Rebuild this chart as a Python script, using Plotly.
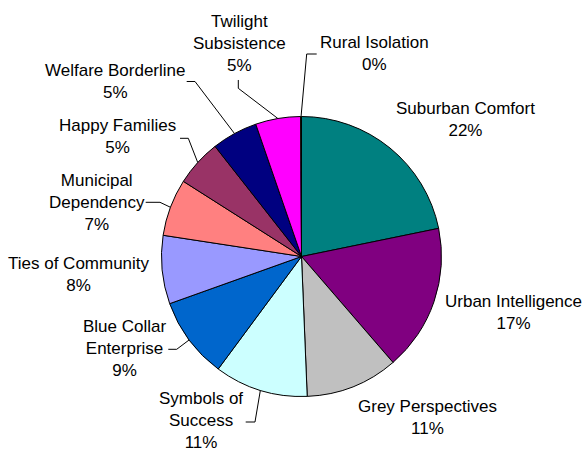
import math
import plotly.graph_objects as go

# ---- data ----
segments = ["Suburban Comfort", "Urban Intelligence", "Grey Perspectives",
            "Symbols of Success", "Blue Collar Enterprise", "Ties of Community",
            "Municipal Dependency", "Happy Families", "Welfare Borderline",
            "Twilight Subsistence", "Rural Isolation"]
label_lines = ["Suburban Comfort", "Urban Intelligence", "Grey Perspectives",
               "Symbols of<br>Success", "Blue Collar<br>Enterprise", "Ties of Community",
               "Municipal<br>Dependency", "Happy Families", "Welfare Borderline",
               "Twilight<br>Subsistence", "Rural Isolation"]
shares = [21.8, 16.9, 10.7, 10.8, 9.4, 7.9, 6.6, 5.4, 5.3, 5.2, 0.1]

# ---- style / layout ----
colors = ["#008080", "#800080", "#C0C0C0", "#CCFFFF", "#0066CC", "#9999FF",
          "#FF8080", "#993366", "#000080", "#FF00FF", "#FFFF00"]
W, H = 583, 453
CX, CY, R = 301.5, 256.5, 140.0
FONT = dict(family="Liberation Sans, Arial, sans-serif", size=17, color="black")

# label block centres (pixels)
label_pos = [(465, 119.5), (513, 312.5), (427, 417), (201, 420.5), (124.5, 348),
             (79, 274), (96.5, 202.5), (117.5, 136.7), (114.5, 81), (239.5, 43.7),
             (374, 54)]
# leader-line anchor points near labels (pixels); last point is the slice edge
leaders = {3: [(245.7, 422.0), (255, 422.0)],
           4: [(168.3, 349.3), (176.7, 349.3)],
           6: [(145.7, 202.3), (160, 202.3)],
           7: [(180, 138.3), (188.3, 138.3)],
           8: [(186.7, 81.5), (195, 81.5)],
           9: [(238.3, 80), (238.3, 88.3)],
           10: [(316.7, 54), (306.7, 54)]}


def px(x):
    return x / W


def py(y):
    return 1 - y / H


fig = go.Figure(go.Pie(
    values=shares, labels=segments, sort=False, direction="clockwise", rotation=0,
    marker=dict(colors=colors, line=dict(color="black", width=1)),
    textinfo="none", showlegend=False,
    domain=dict(x=[px(CX - R), px(CX + R)], y=[py(CY + R), py(CY - R)]),
))

total = sum(shares)
cum = 0.0
annotations = []
shapes = []
for i, v in enumerate(shares):
    mid = (cum + v / 2) / total * 2 * math.pi
    cum += v
    pct = v / total * 100
    lx, ly = label_pos[i]
    annotations.append(dict(
        x=px(lx), y=py(ly), xref="paper", yref="paper",
        text=f"{label_lines[i]}<br>{pct:.0f}%", showarrow=False,
        xanchor="center", yanchor="middle", align="center", font=FONT))
    if i in leaders:
        ex = CX + R * math.sin(mid)
        ey = CY - R * math.cos(mid)
        pts = leaders[i] + [(ex, ey)]
        path = "M " + " L ".join(f"{px(a):.5f},{py(b):.5f}" for a, b in pts)
        shapes.append(dict(type="path", path=path, xref="paper", yref="paper",
                           line=dict(color="black", width=1)))

fig.update_layout(width=W, height=H, autosize=False,
                  margin=dict(l=0, r=0, t=0, b=0),
                  paper_bgcolor="white", plot_bgcolor="white",
                  annotations=annotations, shapes=shapes, showlegend=False)
fig.write_html("out.html", config={"displayModeBar": False},
               post_script="document.body.style.margin='0';document.body.style.overflow='hidden';")
